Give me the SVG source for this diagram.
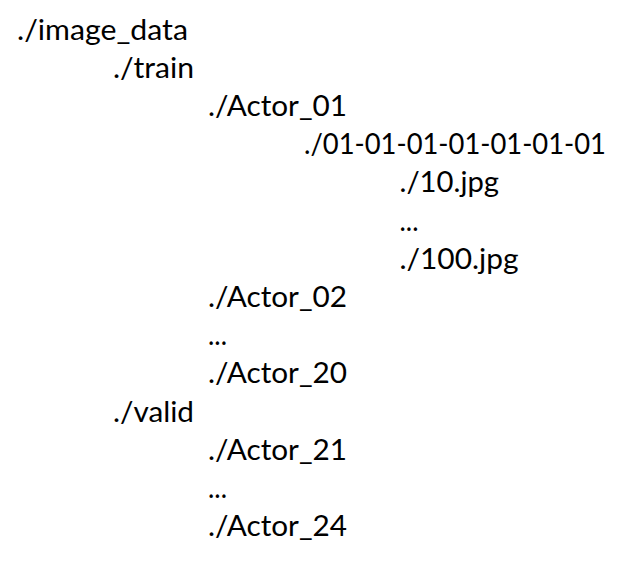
<svg xmlns="http://www.w3.org/2000/svg" width="626" height="562" viewBox="0 0 626 562">
  <style>
    text { font-family: Lato, "Open Sans", "Liberation Sans", sans-serif; font-size: 28px; fill: #000000; }
  </style>
  <rect x="0" y="0" width="626" height="562" fill="#ffffff"/>
  <g id="image_data"><text x="17" y="39.5" textLength="171" lengthAdjust="spacingAndGlyphs">./image_data</text></g>
  <g id="train"><text x="113" y="77.7" textLength="81" lengthAdjust="spacingAndGlyphs">./train</text></g>
  <g id="actor_01"><text x="208" y="115.9" textLength="139" lengthAdjust="spacingAndGlyphs">./Actor_01</text></g>
  <g id="clip_01"><text x="304" y="154.1" textLength="302" lengthAdjust="spacingAndGlyphs">./01-01-01-01-01-01-01</text></g>
  <g id="img_10"><text x="399.5" y="192.3" textLength="99.5" lengthAdjust="spacingAndGlyphs">./10.jpg</text></g>
  <g id="img_dots"><text x="399.5" y="230.5" textLength="19" lengthAdjust="spacingAndGlyphs">...</text></g>
  <g id="img_100"><text x="399.5" y="268.7" textLength="119" lengthAdjust="spacingAndGlyphs">./100.jpg</text></g>
  <g id="actor_02"><text x="208" y="306.9" textLength="139" lengthAdjust="spacingAndGlyphs">./Actor_02</text></g>
  <g id="actor_dots_1"><text x="208" y="345.1" textLength="19" lengthAdjust="spacingAndGlyphs">...</text></g>
  <g id="actor_20"><text x="208" y="383.3" textLength="139" lengthAdjust="spacingAndGlyphs">./Actor_20</text></g>
  <g id="valid"><text x="113" y="421.5" textLength="81" lengthAdjust="spacingAndGlyphs">./valid</text></g>
  <g id="actor_21"><text x="208" y="459.7" textLength="139" lengthAdjust="spacingAndGlyphs">./Actor_21</text></g>
  <g id="actor_dots_2"><text x="208" y="497.9" textLength="19" lengthAdjust="spacingAndGlyphs">...</text></g>
  <g id="actor_24"><text x="208" y="536.1" textLength="139" lengthAdjust="spacingAndGlyphs">./Actor_24</text></g>
  <g id="connectors"></g>
</svg>
